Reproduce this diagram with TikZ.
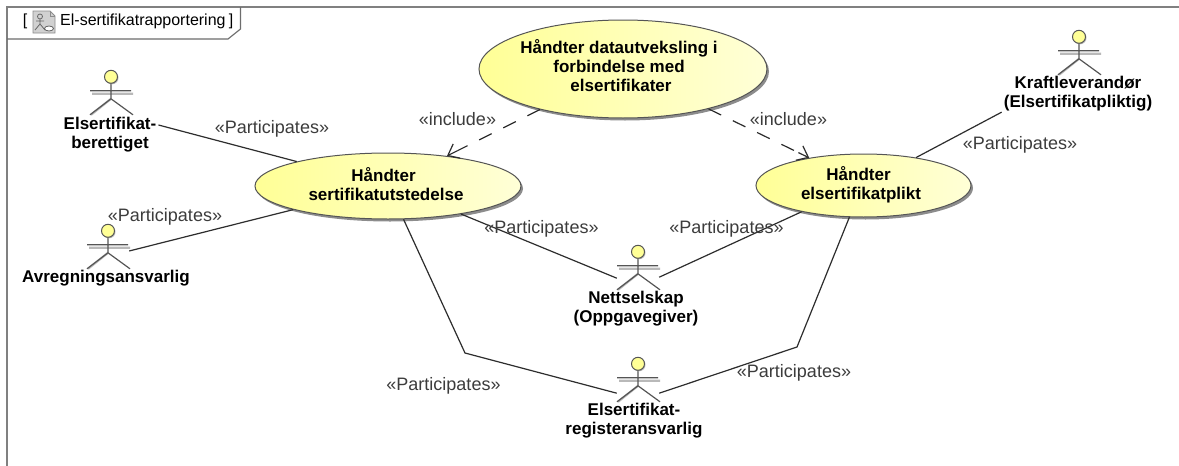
\documentclass[tikz,border=0pt]{standalone}
\usepackage{fontspec}
\setmainfont{Liberation Sans}
\usetikzlibrary{shapes.geometric,shadows,arrows.meta,calc}
\definecolor{ucleft}{RGB}{255,255,150}
\definecolor{ucright}{RGB}{255,255,215}
\definecolor{edgeink}{RGB}{45,45,45}
\definecolor{frameink}{RGB}{128,128,128}
\definecolor{noteink}{RGB}{60,60,60}
\definecolor{shadowink}{RGB}{185,185,185}
\definecolor{figink}{RGB}{85,85,85}
\tikzset{
  usecase/.style={ellipse,draw=figink,line width=1pt,inner sep=0pt,left color=ucleft,right color=ucright,
    drop shadow={shadow xshift=2pt,shadow yshift=-2.5pt,fill=black,opacity=.45},
    font=\fontsize{17}{19}\selectfont\bfseries},
  actorbox/.style={inner sep=0pt,minimum width=42pt,minimum height=44pt},
  actorname/.style={align=center,inner sep=2pt,text=black,font=\fontsize{17}{19}\selectfont\bfseries},
  stereo/.style={inner sep=0pt,text=noteink,font=\fontsize{18}{20}\selectfont},
  assoc/.style={draw=edgeink,line width=1.2pt},
  incl/.style={draw=edgeink,line width=1.2pt,dash pattern=on 14pt off 13pt},
  inclhead/.style={draw=edgeink,line width=1.2pt,-{Straight Barb[length=10pt,width=16pt,line width=1.2pt]}},
  frameline/.style={draw=frameink,line width=2pt},
  tabline/.style={draw=frameink!85!black,line width=1.1pt},
  actorfig/.pic={
    \draw[shadowink,line width=2.2pt] (-19,23) -- (22,23) (0,28) -- (-20,44);
    \draw[figink,line width=1.2pt] (-21,20) -- (20,20) (0,12) -- (0,28) (-21,44) -- (0,28) -- (22,44);
    \fill[shadowink] (1,7) circle (6.5);
    \draw[figink,line width=1pt,fill=ucleft] (0,6) circle (6.5);
  }
}
\begin{document}
\begin{tikzpicture}[x=1pt,y=-1pt]
\useasboundingbox (0,0) rectangle (1179,466);
\fill[white] (0,0) rectangle (1179,466);
% frame
\draw[frameline] (7,466) -- (7,7) -- (1179,7);
\draw[tabline] (7,39) -- (228,39) -- (240.5,29) -- (240.5,7);
\node[anchor=center,inner sep=0pt,font=\fontsize{16}{18}\selectfont] (tabl) at (25,21.5) {[};
\node[anchor=center,inner sep=0pt,font=\fontsize{16}{18}\selectfont] (tabr) at (231,21.5) {]};
\node[anchor=west,inner sep=0pt,font=\fontsize{16}{18}\selectfont] (tabt) at (60,21.5) {El-sertifikatrapportering};
% icon
\draw[fill=black!18,draw=black!45,line width=.8pt] (33,11) -- (50,11) -- (55,16) -- (55,33) -- (33,33) -- cycle;
\draw[black!45,line width=.8pt] (50,11) -- (50,16) -- (55,16);
\draw[black!60,line width=.8pt] (40,16.5) circle (2.5) (40,19) -- (40,24) (36,21) -- (44,21) (35,30) -- (40,24) -- (45,30);
\draw[black!60,fill=white,line width=.8pt] (49,28.5) ellipse (4.5 and 2.5);
% use cases
\node[usecase,minimum width=288pt,minimum height=98pt] (uc0) at (623,69)
  {\kern-4pt\begin{tabular}{@{}c@{}}Håndter datautveksling i\\forbindelse med\\\kern4pt elsertifikater\\[1pt]\end{tabular}\kern4pt};
\node[usecase,minimum width=266pt,minimum height=66pt] (uc1) at (388,186)
  {\kern-2pt\begin{tabular}{@{}c@{}}\rule{0pt}{15.3pt}Håndter\kern5pt\\sertifikatutstedelse\end{tabular}\kern2pt};
\node[usecase,minimum width=215pt,minimum height=63pt] (uc2) at (863.5,185.5)
  {\kern-2.5pt\begin{tabular}{@{}c@{}}Håndter\kern5pt\\elsertifikatplikt\end{tabular}\kern2.5pt};
% actors
\node[actorbox] (a1) at (111,93) {};
\node[actorbox] (a2) at (108,247) {};
\node[actorbox] (a3) at (638,268) {};
\node[actorbox] (a4) at (638,380) {};
\node[actorbox] (a5) at (1079,53) {};
\pic at (a1.north) {actorfig};
\pic at (a2.north) {actorfig};
\pic at (a3.north) {actorfig};
\pic at (a4.north) {actorfig};
\pic at (a5.north) {actorfig};
\node[actorname] (l1) at (110,134.5) {Elsertifikat-\\berettiget};
\node[actorname] (l2) at (106,278) {Avregningsansvarlig};
\node[actorname] (l3) at (636,308.5) {Nettselskap\\(Oppgavegiver)};
\node[actorname] (l4) at (634,421) {Elsertifikat-\\registeransvarlig};
\node[actorname] (l5) at (1078,93.5) {Kraftleverandør\\(Elsertifikatpliktig)};
% connectors
\draw[assoc] ([yshift=9.5pt]l1.east) -- (uc1.165.5);
\draw[assoc] ([yshift=-4pt]a2.east) -- (uc1.194.2);
\draw[assoc] (uc1.-21.25) -- ([yshift=12pt]a3.south west);
\draw[assoc] (uc2.203.7) -- ([yshift=13pt]a3.south east);
\coordinate (bendl) at (465,353);
\coordinate (bendr) at (797,347);
\draw[assoc] (uc1.-65.6) -- (bendl) -- ([yshift=9pt]a4.south west);
\draw[assoc] (uc2.-114.4) -- (bendr) -- ([yshift=9pt]a4.south east);
\draw[assoc] (uc2.28.9) -- ([yshift=1pt]l5.south west);
\draw[incl] (uc0.206.3) -- ($(uc1.27)!12pt!(uc0.206.3)$);
\draw[inclhead] ($(uc1.27)!12pt!(uc0.206.3)$) -- (uc1.27);
\draw[incl] (uc0.-25.5) -- ($(uc2.153.6)!12pt!(uc0.-25.5)$);
\draw[inclhead] ($(uc2.153.6)!12pt!(uc0.-25.5)$) -- (uc2.153.6);
% stereotypes
\node[stereo] (p1) at (272,128.5) {«Participates»};
\node[stereo] (p2) at (165,216.5) {«Participates»};
\node[stereo] (p3) at (541.5,228.5) {«Participates»};
\node[stereo] (p4) at (726.5,228.5) {«Participates»};
\node[stereo] (p5) at (1020,144.5) {«Participates»};
\node[stereo] (p6) at (443.5,385.5) {«Participates»};
\node[stereo] (p7) at (794,372.5) {«Participates»};
\node[stereo] (i1) at (457.5,119) {«include»};
\node[stereo] (i2) at (788.5,119) {«include»};
\end{tikzpicture}
\end{document}
